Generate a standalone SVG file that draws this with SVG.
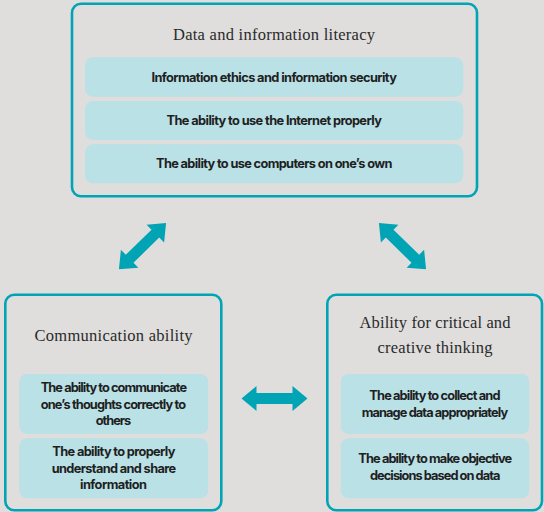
<svg xmlns="http://www.w3.org/2000/svg" width="544" height="512" viewBox="0 0 544 512">
<style>
.box{fill:#dfdedd;stroke:#00a4b4;stroke-width:2.6}
.pill{fill:#b9e1e6}
.title{font-family:"Liberation Serif","DejaVu Serif",serif;font-size:16.5px;fill:#2a2a2a;text-anchor:middle}
.item{font-family:Inter,"Liberation Sans",sans-serif;font-weight:700;font-size:12.8px;letter-spacing:-0.4px;fill:#1f1f1f;text-anchor:middle}
.arrow{fill:#00a4b4}
</style>
<defs>
<path id="dbl" d="M-33,0 L-18,-12.5 L-18,-5.5 L18,-5.5 L18,-12.5 L33,0 L18,12.5 L18,5.5 L-18,5.5 L-18,12.5 Z"/>
</defs>
<rect width="544" height="512" fill="#dfdedd"/>
<g id="node-data">
<rect class="box" x="72" y="3.8" width="405" height="192.5" rx="9"/>
<text class="title" x="274" y="40" textLength="202">Data and information literacy</text>
<rect class="pill" x="85" y="57.3" width="378.3" height="39.4" rx="8"/>
<rect class="pill" x="85" y="101" width="378.3" height="39" rx="8"/>
<rect class="pill" x="85" y="144.3" width="378.3" height="39" rx="8"/>
<text class="item" x="274" y="82" textLength="245">Information ethics and information security</text>
<text class="item" x="274" y="125" textLength="215">The ability to use the Internet properly</text>
<text class="item" x="274" y="168" textLength="236">The ability to use computers on one’s own</text>
</g>
<g id="node-communication">
<rect class="box" x="5.3" y="294.7" width="216" height="215.5" rx="9"/>
<text class="title" x="113.5" y="341" textLength="158">Communication ability</text>
<rect class="pill" x="19.3" y="374" width="189" height="60" rx="8"/>
<rect class="pill" x="19.3" y="438.3" width="189" height="60" rx="8"/>
<text class="item" x="113.7" y="392" textLength="146">The ability to communicate</text>
<text class="item" x="113.2" y="408.5" textLength="145">one’s thoughts correctly to</text>
<text class="item" x="113.3" y="425" textLength="35">others</text>
<text class="item" x="113.7" y="456" textLength="122.7">The ability to properly</text>
<text class="item" x="113.7" y="472.5" textLength="124">understand and share</text>
<text class="item" x="113.3" y="489" textLength="66.7">information</text>
</g>
<g id="node-critical">
<rect class="box" x="327.3" y="294.7" width="214.7" height="215.5" rx="9"/>
<text class="title" x="435" y="328" textLength="151">Ability for critical and</text>
<text class="title" x="435" y="353.3" textLength="115">creative thinking</text>
<rect class="pill" x="340.7" y="374" width="188.6" height="60" rx="8"/>
<rect class="pill" x="340.7" y="438.3" width="188.6" height="60" rx="8"/>
<text class="item" x="434.7" y="400" textLength="130.7">The ability to collect and</text>
<text class="item" x="434.7" y="416.5" textLength="146">manage data appropriately</text>
<text class="item" x="435" y="463" textLength="153.3">The ability to make objective</text>
<text class="item" x="435" y="479.5" textLength="130">decisions based on data</text>
</g>
<g id="connectors">
<use href="#dbl" class="arrow" transform="translate(142.5,246.2) rotate(-44.4)"/>
<use href="#dbl" class="arrow" transform="translate(402.5,246.2) rotate(44.4)"/>
<use href="#dbl" class="arrow" transform="translate(274.5,398.5)"/>
</g>
</svg>
